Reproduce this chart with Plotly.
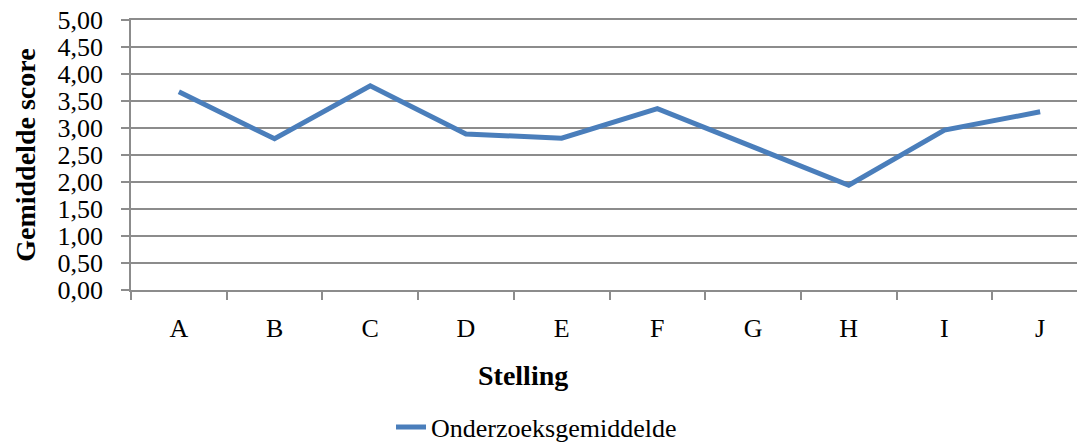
import plotly.graph_objects as go

# Gemiddelde score per stelling
stellingen = ['A', 'B', 'C', 'D', 'E', 'F', 'G', 'H', 'I', 'J']
gemiddelde = [3.67, 2.80, 3.78, 2.89, 2.81, 3.36, 2.65, 1.94, 2.96, 3.30]
reeks_naam = 'Onderzoeksgemiddelde'

y_ticks = [i * 0.5 for i in range(11)]
y_labels = [f'{v:.2f}'.replace('.', ',') for v in y_ticks]

FONT = 'Liberation Serif'
GRIJS = '#8c8c8c'

fig = go.Figure()
fig.add_trace(go.Scatter(
    x=stellingen,
    y=gemiddelde,
    mode='lines',
    name=reeks_naam,
    line=dict(color='#4a7ebb', width=5),
))

fig.update_layout(
    width=1085,
    height=443,
    margin=dict(l=123, r=5, t=12, b=161, autoexpand=False),
    paper_bgcolor='white',
    plot_bgcolor='white',
    font=dict(family=FONT, size=26, color='black'),
    showlegend=True,
    # legenda in container-coordinaten, zodat de marges niet verschuiven
    legend=dict(
        orientation='h',
        xref='container', yref='container',
        x=0.353, xanchor='left',
        y=0.054, yanchor='middle',
        font=dict(size=26),
        bgcolor='rgba(0,0,0,0)',
    ),
    annotations=[
        dict(text='<b>Stelling</b>', xref='paper', yref='paper',
             x=0.41, y=-0.318, xanchor='center', yanchor='middle',
             showarrow=False, font=dict(size=28)),
        dict(text='<b>Gemiddelde score</b>', xref='paper', yref='paper',
             x=-0.111, y=0.5, xanchor='center', yanchor='middle',
             textangle=-90, showarrow=False, font=dict(size=28)),
    ],
)

fig.update_xaxes(
    type='category',
    range=[-0.5, len(stellingen) - 0.5],
    tickson='boundaries',
    ticks='outside',
    ticklen=8,
    tickcolor=GRIJS,
    tickwidth=1.5,
    showline=True,
    mirror=True,  # bovenste lijn bij 5,00
    linecolor=GRIJS,
    linewidth=1.5,
    showgrid=False,
    automargin=False,
    ticklabelstandoff=14,
    tickfont=dict(size=26),
)

fig.update_yaxes(
    range=[0, 5],
    tickvals=y_ticks,
    ticktext=y_labels,
    ticks='outside',
    ticklen=8,
    tickcolor=GRIJS,
    tickwidth=1.5,
    showline=True,
    linecolor=GRIJS,
    linewidth=1.5,
    showgrid=True,
    gridcolor=GRIJS,
    gridwidth=1.5,
    zeroline=False,
    automargin=False,
    ticklabeloverflow='allow',
    ticklabelstandoff=13,
    tickfont=dict(size=26),
)

fig.write_html('out.html')
